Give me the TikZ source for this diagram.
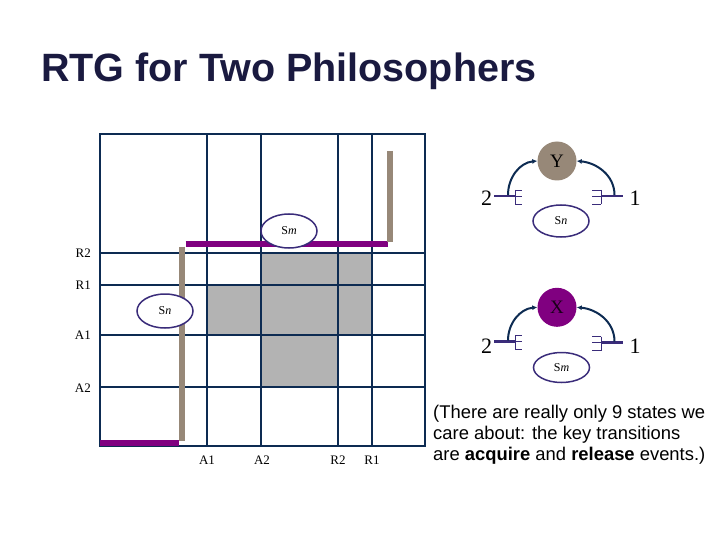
\documentclass[tikz,border=0pt]{standalone}
\usepackage{fontspec}
\setmainfont{Liberation Serif}
\setsansfont{Liberation Sans}
\usetikzlibrary{shapes.geometric,arrows.meta}
\definecolor{navy}{HTML}{0D2B52}
\definecolor{titlecol}{HTML}{1A1A40}
\definecolor{ellcol}{HTML}{3A2C7A}
\definecolor{barpurple}{HTML}{800080}
\definecolor{bartaupe}{HTML}{978878}
\definecolor{shadegray}{HTML}{B3B3B3}
\definecolor{forkcol}{HTML}{3A2C7A}
\tikzset{
  gridline/.style={navy, line width=2pt},
  purplebar/.style={barpurple, line width=6pt},
  taupebar/.style={bartaupe, line width=6pt},
  stateell/.style={ellipse, draw=ellcol, fill=white, line width=1.5pt, minimum width=56pt, minimum height=34pt, inner sep=0pt, font=\fontsize{12}{14}\selectfont},
  axislabel/.style={font=\fontsize{13}{15}\selectfont, inner sep=0pt},
  rsrc/.style={circle, minimum size=39pt, inner sep=0pt, font=\fontsize{19}{21}\selectfont},
  reqarrow/.style={navy, line width=2pt, -{Latex[length=5pt,width=5pt]}},
  forkline/.style={forkcol, line width=2.5pt},
  prong/.style={forkcol, line width=0.8pt},
  numlabel/.style={font=\fontsize{22}{24}\selectfont, inner sep=0pt, anchor=base}
}
\begin{document}
\begin{tikzpicture}[x=1pt,y=-1pt]
\useasboundingbox (0,0) rectangle (720,540);
% title
\node[anchor=base west, inner sep=0pt, text=titlecol, font=\sffamily\bfseries\fontsize{39.5}{46}\selectfont] (title) at (41,81.7) {RTG for Two Philosophers};
% shaded region
\fill[shadegray] (261,252.7) rectangle (372.3,335);
\fill[shadegray] (206.7,285) rectangle (372.3,335);
\fill[shadegray] (261,252.7) rectangle (337.7,387.3);
% grid
\draw[gridline] (100,134) rectangle (425,446);
\foreach \x in {206.7,261,337.7,372.3} \draw[gridline] (\x,134) -- (\x,446);
\foreach \y in {252.7,285,335,387.3} \draw[gridline] (100,\y) -- (425,\y);
% axis labels
\node[axislabel, anchor=east] (lr2) at (91,253) {R2};
\node[axislabel, anchor=east] (lr1) at (91,285) {R1};
\node[axislabel, anchor=east] (la1) at (91,335) {A1};
\node[axislabel, anchor=east] (la2) at (91,388) {A2};
\node[axislabel] (ba1) at (207,460) {A1};
\node[axislabel] (ba2) at (262,460) {A2};
\node[axislabel] (br2) at (338,460) {R2};
\node[axislabel] (br1) at (372,460) {R1};
% trajectory bars
\draw[purplebar] (100,442.7) -- (179,442.7);
\draw[taupebar] (182.3,246.7) -- (182.3,440.7);
\draw[purplebar] (185.7,244.3) -- (387.7,244.3);
\draw[taupebar] (390.3,151) -- (390.3,241.7);
% states on the grid
\node[stateell] (smgrid) at (289,231) {S\textit{m}};
\node[stateell] (sngrid) at (165,311) {S\textit{n}};
% ---- resource Y ----
\node[rsrc, fill=bartaupe] (Y) at (557,161) {Y};
\node[numlabel] (y2) at (486.7,206) {2};
\node[numlabel] (y1) at (635,206) {1};
\coordinate (y2a) at (494,196);
\coordinate (y2b) at (515,196);
\coordinate (y1a) at (601,196);
\coordinate (y1b) at (623,196);
\draw[forkline] (y2a) -- (y2b);
\draw[prong] (515,190) -- (515,204) (515,190) -- (521.7,190) (515,196) -- (521.7,196) (515,204) -- (521.7,204);
\draw[forkline] (y1a) -- (y1b);
\draw[prong] (601,190) -- (601,204) (601,190) -- (592,190) (601,196) -- (592,196) (601,204) -- (592,204);
\coordinate (yl) at (508,195);
\coordinate (yr) at (614.5,195);
\draw[reqarrow] (yl) to[out=90, in=185] (Y.west);
\draw[reqarrow] (yr) to[out=90, in=-5] (Y.east);
\node[stateell, minimum height=32pt] (sny) at (561,221) {S\textit{n}};
% ---- resource X ----
\node[rsrc, fill=barpurple, text=black!80!barpurple] (X) at (557,307.3) {X};
\node[numlabel] (x2) at (486.7,353) {2};
\node[numlabel] (x1) at (635,353) {1};
\coordinate (x2a) at (494,341.5);
\coordinate (x2b) at (515,341.5);
\coordinate (x1a) at (601,342.5);
\coordinate (x1b) at (623,342.5);
\draw[forkline] (x2a) -- (x2b);
\draw[prong] (515,335.5) -- (515,349.5) (515,335.5) -- (521.7,335.5) (515,341.5) -- (521.7,341.5) (515,349.5) -- (521.7,349.5);
\draw[forkline] (x1a) -- (x1b);
\draw[prong] (601,336.5) -- (601,350.5) (601,336.5) -- (592,336.5) (601,342.5) -- (592,342.5) (601,350.5) -- (592,350.5);
\coordinate (xl) at (508,340.5);
\coordinate (xr) at (614.5,341.5);
\draw[reqarrow] (xl) to[out=90, in=185] (X.west);
\draw[reqarrow] (xr) to[out=90, in=-5] (X.east);
\node[stateell, minimum height=30pt] (smx) at (561.5,367.5) {S\textit{m}};
% caption
\node[anchor=north west, inner sep=0pt, align=left, font=\sffamily\fontsize{18.4}{21}\selectfont] (caption) at (433,404.5) {(There are really only 9 states we\\care about: the key transitions\\are \textbf{acquire} and \textbf{release} events.)};
\end{tikzpicture}
\end{document}
